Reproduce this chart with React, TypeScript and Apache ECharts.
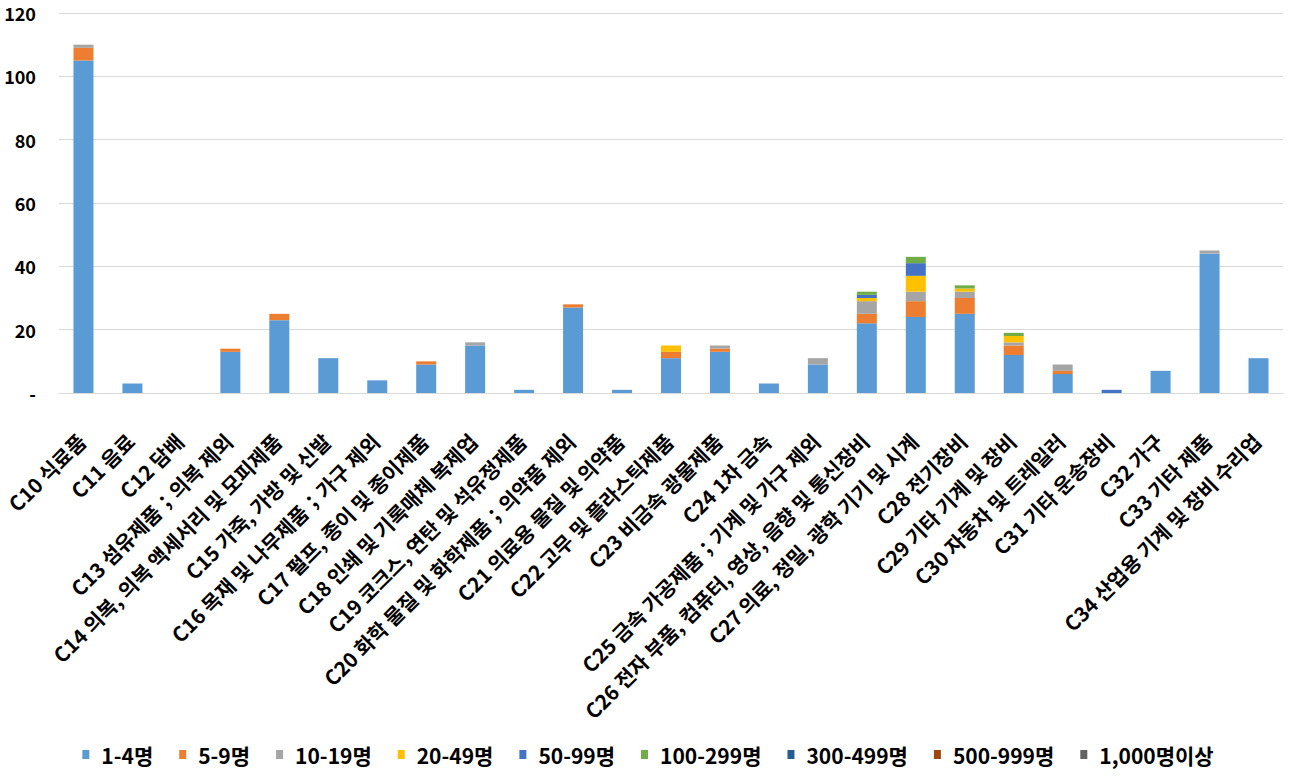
import React, { useEffect, useRef } from "react";
import * as echarts from "echarts";

const categories = [
  "C10 식료품",
  "C11 음료",
  "C12 담배",
  "C13 섬유제품；의복 제외",
  "C14 의복, 의복 액세서리 및 모피제품",
  "C15 가죽, 가방 및 신발",
  "C16 목재 및 나무제품；가구 제외",
  "C17 펄프, 종이 및 종이제품",
  "C18 인쇄 및 기록매체 복제업",
  "C19 코크스, 연탄 및 석유정제품",
  "C20 화학 물질 및 화학제품；의약품 제외",
  "C21 의료용 물질 및 의약품",
  "C22 고무 및 플라스틱제품",
  "C23 비금속 광물제품",
  "C24 1차 금속",
  "C25 금속 가공제품；기계 및 가구 제외",
  "C26 전자 부품, 컴퓨터, 영상, 음향 및 통신장비",
  "C27 의료, 정밀, 광학 기기 및 시계",
  "C28 전기장비",
  "C29 기타 기계 및 장비",
  "C30 자동차 및 트레일러",
  "C31 기타 운송장비",
  "C32 가구",
  "C33 기타 제품",
  "C34 산업용 기계 및 장비 수리업",
];

const seriesNames = [
  "1-4명",
  "5-9명",
  "10-19명",
  "20-49명",
  "50-99명",
  "100-299명",
  "300-499명",
  "500-999명",
  "1,000명이상",
];

const colors = [
  "#5B9BD5",
  "#ED7D31",
  "#A5A5A5",
  "#FFC000",
  "#4472C4",
  "#70AD47",
  "#255E91",
  "#9E480E",
  "#636363",
];

const v1to4 = [105, 3, 0, 13, 23, 11, 4, 9, 15, 1, 27, 1, 11, 13, 3, 9, 22, 24, 25, 12, 6, 0, 7, 44, 11];
const v5to9 = [4, 0, 0, 1, 2, 0, 0, 1, 0, 0, 1, 0, 2, 1, 0, 0, 3, 5, 5, 3, 1, 0, 0, 0, 0];
const v10to19 = [1, 0, 0, 0, 0, 0, 0, 0, 1, 0, 0, 0, 0, 1, 0, 2, 4, 3, 2, 1, 2, 0, 0, 1, 0];
const v20to49 = [0, 0, 0, 0, 0, 0, 0, 0, 0, 0, 0, 0, 2, 0, 0, 0, 1, 5, 1, 2, 0, 0, 0, 0, 0];
const v50to99 = [0, 0, 0, 0, 0, 0, 0, 0, 0, 0, 0, 0, 0, 0, 0, 0, 1, 4, 0, 0, 0, 1, 0, 0, 0];
const v100to299 = [0, 0, 0, 0, 0, 0, 0, 0, 0, 0, 0, 0, 0, 0, 0, 0, 1, 2, 1, 1, 0, 0, 0, 0, 0];
const v300to499 = [0, 0, 0, 0, 0, 0, 0, 0, 0, 0, 0, 0, 0, 0, 0, 0, 0, 0, 0, 0, 0, 0, 0, 0, 0];
const v500to999 = [0, 0, 0, 0, 0, 0, 0, 0, 0, 0, 0, 0, 0, 0, 0, 0, 0, 0, 0, 0, 0, 0, 0, 0, 0];
const v1000plus = [0, 0, 0, 0, 0, 0, 0, 0, 0, 0, 0, 0, 0, 0, 0, 0, 0, 0, 0, 0, 0, 0, 0, 0, 0];

const allValues = [v1to4, v5to9, v10to19, v20to49, v50to99, v100to299, v300to499, v500to999, v1000plus];

const FONT = '"Noto Sans CJK KR", "Noto Sans", sans-serif';

export default function App() {
  const ref = useRef<HTMLDivElement>(null);
  useEffect(() => {
    if (!ref.current) return;
    const chart = echarts.init(ref.current, undefined, { renderer: "svg" });
    chart.setOption({
      animation: false,
      color: colors,
      grid: {
        left: 59,
        right: 13,
        top: 13,
        bottom: 389,
        containLabel: false,
        outerBoundsMode: "none",
      },
      legend: {
        bottom: 12,
        left: "center",
        icon: "rect",
        itemWidth: 7,
        itemHeight: 9,
        itemGap: 26,
        textStyle: {
          fontFamily: FONT,
          fontWeight: "bold",
          fontSize: 21,
          color: "#000",
          padding: [0, 0, 0, 7],
        },
        data: seriesNames,
      },
      xAxis: {
        type: "category",
        data: categories,
        axisLine: { lineStyle: { color: "#D9D9D9", width: 1 } },
        axisTick: { show: false },
        axisLabel: {
          interval: 0,
          rotate: 45,
          margin: 42,
          padding: [0, 3, 0, 0],
          fontFamily: FONT,
          fontWeight: "bold",
          fontSize: 20.5,
          color: "#000",
        },
      },
      yAxis: {
        type: "value",
        min: 0,
        max: 120,
        interval: 20,
        axisLine: { show: false },
        axisTick: { show: false },
        splitLine: { lineStyle: { color: "#D9D9D9", width: 1 } },
        axisLabel: {
          margin: 23,
          fontFamily: FONT,
          fontWeight: "bold",
          fontSize: 18,
          color: "#000",
          formatter: (v: number) => (v === 0 ? "-" : String(v)),
        },
      },
      series: seriesNames.map((name, i) => ({
        name,
        type: "bar",
        stack: "total",
        barWidth: 20,
        data: allValues[i],
        itemStyle: { color: colors[i] },
      })),
    });
    return () => chart.dispose();
  }, []);
  return (
    <div
      ref={ref}
      style={{ position: "fixed", left: 0, top: 0, width: 1296, height: 782, background: "#fff" }}
    />
  );
}
